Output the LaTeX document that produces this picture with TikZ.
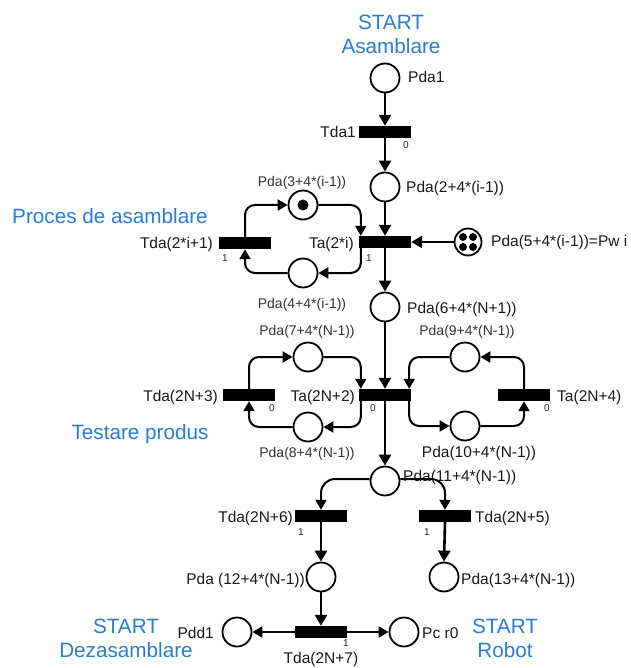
\documentclass[tikz,border=0pt]{standalone}
\usepackage{fontspec}
\setmainfont{Liberation Sans}
\usetikzlibrary{arrows.meta}
\definecolor{titleblue}{RGB}{40,125,205}
\begin{document}
\begin{tikzpicture}[x=1pt,y=-1pt,
  place/.style={circle,draw,line width=1.8pt,minimum size=29pt,inner sep=0pt},
  bar/.style={rectangle,fill=black,minimum width=52pt,minimum height=12pt,inner sep=0pt},
  tok/.style={circle,fill=black,inner sep=0pt,minimum size=#1},
  flow/.style={line width=2.6pt,-{Triangle[length=11pt,width=12pt]}},
  side/.style={line width=2pt,-{Triangle[length=10pt,width=11pt]}},
  loop/.style={side,rounded corners=10pt},
  lbl/.style={font=\fontsize{15.5}{18}\selectfont,inner sep=0pt,text=black!90},
  sml/.style={font=\fontsize{14}{16}\selectfont,inner sep=0pt,text=black!80},
  num/.style={font=\fontsize{10}{12}\selectfont,inner sep=0pt,text=black!85},
  title/.style={font=\fontsize{20.7}{24}\selectfont,inner sep=0pt,text=titleblue},
]
\useasboundingbox (0,0) rectangle (630,668);

% ---------- section titles ----------
\node[title,anchor=base] (sa1) at (391,30) {START};
\node[title,anchor=base] (sa2) at (391,54) {Asamblare};
\node[title,anchor=base] (proc) at (110,223) {Proces de asamblare};
\node[title,anchor=base] (test) at (140,439) {Testare produs};
\node[title,anchor=base] (sd1) at (126,633) {START};
\node[title,anchor=base] (sd2) at (126,657) {Dezasamblare};
\node[title,anchor=base] (sr1) at (505,633) {START};
\node[title,anchor=base] (sr2) at (505,657) {Robot};

% ---------- places ----------
\node[place] (pda1) at (385,78) {};
\node[place] (p2)   at (385,187) {};
\node[place] (p3)   at (303,205) {};
\node[place] (p4)   at (303,273) {};
\node[place,minimum size=27pt] (pw) at (468,242) {};
\node[place] (p6)   at (385,307) {};
\node[place] (p7)   at (308,357) {};
\node[place] (p8)   at (308,427) {};
\node[place] (p9)   at (465,357) {};
\node[place] (p10)  at (465,426) {};
\node[place] (p11)  at (385,481) {};
\node[place] (p12)  at (321,577) {};
\node[place] (p13)  at (444,577) {};
\node[place] (pdd1) at (237,632) {};
\node[place] (pcr0) at (404,632) {};

% tokens
\node[tok=11pt] (k3) at (p3.center) {};
\node[tok=8pt] (w1) at ([shift={(-5,-5)}]pw.center) {};
\node[tok=8pt] (w2) at ([shift={(5,-5)}]pw.center) {};
\node[tok=8pt] (w3) at ([shift={(-5,5)}]pw.center) {};
\node[tok=8pt] (w4) at ([shift={(5,5)}]pw.center) {};

% ---------- transitions ----------
\node[bar] (tda1) at (385,132) {};
\node[bar] (ta)   at (385,242) {};
\node[bar] (tdi)  at (245,243) {};
\node[bar] (t2n3) at (249,395) {};
\node[bar] (t2n2) at (385,395) {};
\node[bar] (t2n4) at (524,395) {};
\node[bar] (t2n6) at (321,516) {};
\node[bar] (t2n5) at (445,516) {};
\node[bar] (t2n7) at (321,632) {};

% ---------- labels ----------
\node[lbl,anchor=base west] (lpda1) at (408,83) {Pda1};
\node[lbl,anchor=base east] (ltda1) at (356,138) {Tda1};
\node[lbl,anchor=base west] (lp2) at (406,193) {Pda(2+4*(i-1))};
\node[sml,anchor=base] (lp3) at (302,186) {Pda(3+4*(i-1))};
\node[lbl,anchor=base east] (ltdi) at (213,248) {Tda(2*i+1)};
\node[lbl,anchor=base east] (lta) at (354,248) {Ta(2*i)};
\node[lbl,anchor=base west] (lpw) at (491,246) {Pda(5+4*(i-1))=Pw i};
\node[sml,anchor=base] (lp4) at (302,308) {Pda(4+4*(i-1))};
\node[lbl,anchor=base west] (lp6) at (407,313) {Pda(6+4*(N+1))};
\node[sml,anchor=base] (lp7) at (307,335) {Pda(7+4*(N-1))};
\node[sml,anchor=base] (lp9) at (467,335) {Pda(9+4*(N-1))};
\node[lbl,anchor=base east] (lt2n3) at (218,401) {Tda(2N+3)};
\node[lbl,anchor=base east] (lt2n2) at (355,401) {Ta(2N+2)};
\node[lbl,anchor=base west] (lt2n4) at (557,401) {Ta(2N+4)};
\node[sml,anchor=base] (lp8) at (307,457) {Pda(8+4*(N-1))};
\node[lbl,anchor=base] (lp10) at (479,457) {Pda(10+4*(N-1))};
\node[lbl,anchor=base west] (lp11) at (403,481) {Pda(11+4*(N-1))};
\node[lbl,anchor=base east] (lt2n6) at (293,522) {Tda(2N+6)};
\node[lbl,anchor=base west] (lt2n5) at (475,522) {Tda(2N+5)};
\node[lbl,anchor=base east] (lp12) at (305,584) {Pda (12+4*(N-1))};
\node[lbl,anchor=base west] (lp13) at (461,584) {Pda(13+4*(N-1))};
\node[lbl,anchor=base east] (lpdd1) at (214,638) {Pdd1};
\node[lbl,anchor=base west] (lpcr0) at (422,638) {Pc r0};
\node[lbl,anchor=base] (lt2n7) at (321,663) {Tda(2N+7)};

% transition priorities
\node[num] (n1) at (406,145) {0};
\node[num] (n2) at (369,258) {1};
\node[num] (n3) at (225,258) {1};
\node[num] (n4) at (272,408) {0};
\node[num] (n5) at (373,408) {0};
\node[num] (n6) at (547,408) {0};
\node[num] (n7) at (301,532) {1};
\node[num] (n8) at (427,532) {1};
\node[num] (n9) at (346,643) {1};

% ---------- main flow ----------
\draw[flow] (pda1.south) -- (tda1.north);
\draw[flow] (tda1.south) -- (p2.north);
\draw[flow] (p2.south) -- (ta.north);
\draw[flow] (pw.west) -- (ta.east);
\draw[flow] (ta.south) -- (p6.north);
\draw[flow] (p6.south) -- (t2n2.north);
\draw[flow] (t2n2.south) -- (p11.north);
\draw[flow] (t2n6.south) -- (p12.north);
\draw[flow] (t2n5.south) -- (p13.north);
\draw[flow] (p12.south) -- (t2n7.north);
\draw[side] (t2n7.west) -- (pdd1.east);
\draw[side] (t2n7.east) -- (pcr0.west);

% ---------- assembly loop ----------
\draw[loop] (tdi.north) |- (p3.west);
\draw[loop] (p3.east) -| ([xshift=2pt]ta.north west);
\draw[loop] ([xshift=2pt]ta.south west) |- (p4.east);
\draw[loop] (p4.west) -| (tdi.south);

% ---------- test loops ----------
\draw[loop] (t2n3.north) |- (p7.west);
\draw[loop] (p7.east) -| ([xshift=2pt]t2n2.north west);
\draw[loop] ([xshift=2pt]t2n2.south west) |- (p8.east);
\draw[loop] (p8.west) -| (t2n3.south);
\draw[loop] ([xshift=-2pt]t2n2.south east) |- (p10.west);
\draw[loop] (p10.east) -| (t2n4.south);
\draw[loop] (t2n4.north) |- (p9.east);
\draw[loop] (p9.west) -| ([xshift=-2pt]t2n2.north east);

% ---------- branch after test ----------
\draw[side,rounded corners=14pt] ([yshift=2pt]p11.west) -| (t2n6.north);
\draw[side,rounded corners=14pt] ([yshift=2pt]p11.east) -| (t2n5.north);
\end{tikzpicture}
\end{document}
